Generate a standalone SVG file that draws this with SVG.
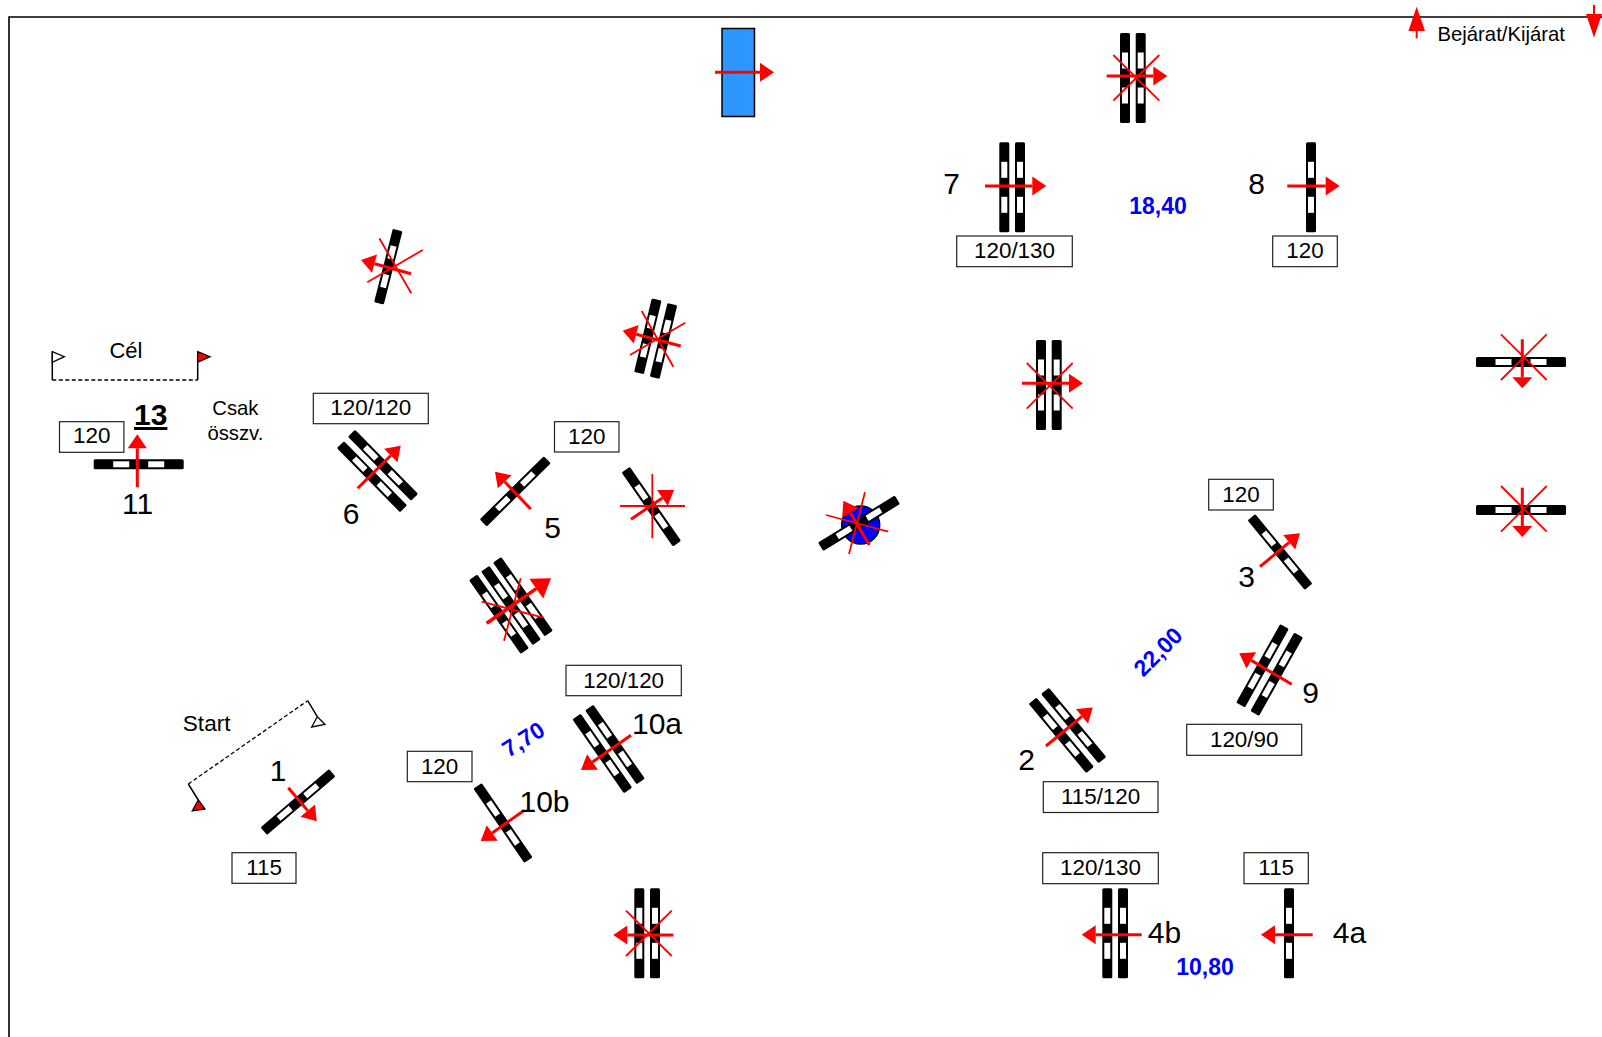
<svg xmlns="http://www.w3.org/2000/svg" width="1602" height="1037" viewBox="0 0 1602 1037">
<style>
text{font-family:"Liberation Sans",Arial,sans-serif;fill:#000}
.m{text-anchor:middle}
.box{fill:#fff;stroke:#222;stroke-width:1.2}
.bt{font-size:22.4px;text-anchor:middle}
.num{font-size:30px}
.sm{font-size:20.3px}
.blue{font-size:23px;font-weight:bold;fill:#00f;text-anchor:middle}
.a{fill:none;stroke:#f00;stroke-width:3;marker-end:url(#h)}
.as{fill:none;stroke:#f00;stroke-width:3;marker-end:url(#hs)}
.al{fill:none;stroke:#f00;stroke-width:3.5;marker-end:url(#hl)}
.x{stroke:#f00;stroke-width:1.8;fill:none}
.dash{stroke:#000;stroke-width:1.3;stroke-dasharray:4 2.5;fill:none}
.pole{stroke:#000;stroke-width:1.5;fill:none}
.fw{fill:#fff;stroke:#000;stroke-width:1.3}
.fr{fill:#f00;stroke:#000;stroke-width:1.3}
</style>
<defs>
<g id="bar"><rect x="-5" y="-45" width="10" height="90" rx="1.5" fill="#000"/><rect x="-3" y="-25.5" width="6" height="16" fill="#fff"/><rect x="-3" y="9.5" width="6" height="16" fill="#fff"/></g>
<marker id="h" markerUnits="userSpaceOnUse" markerWidth="16" markerHeight="22" refX="0" refY="10" orient="auto" overflow="visible"><path d="M0,0.5L14,10L0,19.5Z" fill="#f00"/></marker>
<marker id="hs" markerUnits="userSpaceOnUse" markerWidth="13" markerHeight="22" refX="0" refY="10" orient="auto" overflow="visible"><path d="M0,0L11,10L0,20Z" fill="#f00"/></marker>
<marker id="hl" markerUnits="userSpaceOnUse" markerWidth="20" markerHeight="26" refX="0" refY="12" orient="auto" overflow="visible"><path d="M0,0L18,12L0,24Z" fill="#f00"/></marker>
</defs>
<rect width="1602" height="1037" fill="#fff"/>
<path id="frame" d="M9,1037V17H1602" fill="none" stroke="#000" stroke-width="1.6"/>

<g id="legend">
<line x1="1416.7" y1="38.3" x2="1416.7" y2="28" stroke="#f00" stroke-width="2"/>
<path d="M1416.7,6.7L1425,31H1408.4Z" fill="#f00"/>
<line x1="1594" y1="5" x2="1594" y2="15" stroke="#f00" stroke-width="2"/>
<path d="M1586,14H1602V14L1594,37.5L1586,14Z" fill="#f00"/>
<text class="sm" x="1437.5" y="41">Bejárat/Kijárat</text>
</g>

<g id="water">
<rect x="722" y="28.5" width="32.5" height="88" fill="#2e96ff" stroke="#000" stroke-width="1.5"/>
<line class="a" x1="715" y1="72.3" x2="760" y2="72.3"/>
</g>

<g id="cross-top">
<use href="#bar" transform="translate(1125 78)"/><use href="#bar" transform="translate(1140.7 78)"/>
<path class="x" d="M1113.3,55L1159.3,100.7M1113.3,100.7L1159.3,55"/>
<line class="a" x1="1106.7" y1="76" x2="1153.3" y2="76"/>
</g>

<g id="ob7">
<use href="#bar" transform="translate(1004.3 187.3)"/><use href="#bar" transform="translate(1020 187.3)"/>
<line class="a" x1="985" y1="186" x2="1032.3" y2="186"/>
<text class="num m" x="951.7" y="194">7</text>
<rect class="box" x="956.7" y="236" width="115.6" height="30.7"/><text class="bt" x="1014.5" y="258.3">120/130</text>
</g>

<g id="ob8">
<use href="#bar" transform="translate(1311 187.3)"/>
<line class="a" x1="1287.3" y1="186" x2="1325.7" y2="186"/>
<text class="num m" x="1256.7" y="194">8</text>
<rect class="box" x="1272.7" y="236" width="64.6" height="30.7"/><text class="bt" x="1305" y="258.3">120</text>
</g>

<text class="blue" x="1158" y="214">18,40</text>

<g id="cross-mid">
<use href="#bar" transform="translate(1041 385)"/><use href="#bar" transform="translate(1056.7 385)"/>
<path class="x" d="M1026.7,363L1072.7,408.7M1026.7,408.7L1072.7,363"/>
<line class="a" x1="1022" y1="383.3" x2="1069" y2="383.3"/>
</g>

<g id="cross-right1">
<use href="#bar" transform="translate(1521 362) rotate(90)"/>
<path class="x" d="M1501,334.3L1546.7,380M1501,380L1546.7,334.3"/>
<line class="as" x1="1522.3" y1="339.3" x2="1522.3" y2="377.3"/>
</g>
<g id="cross-right2">
<use href="#bar" transform="translate(1521 510) rotate(90)"/>
<path class="x" d="M1501,486L1546.7,531.7M1501,531.7L1546.7,486"/>
<line class="as" x1="1522.3" y1="487.7" x2="1522.3" y2="526"/>
</g>

<g id="ob3">
<use href="#bar" transform="translate(1280 552) rotate(-39.4)"/>
<line class="a" x1="1260" y1="566.7" x2="1289.2" y2="542.3"/>
<text class="num m" x="1246.7" y="586.7">3</text>
<rect class="box" x="1208.7" y="479.3" width="64.6" height="30.7"/><text class="bt" x="1241" y="502.3">120</text>
</g>

<g id="ob9">
<use href="#bar" transform="translate(1262.5 665.8) rotate(29.2)"/><use href="#bar" transform="translate(1276.7 674.2) rotate(29.2)"/>
<line class="a" x1="1291.7" y1="684.3" x2="1251.3" y2="660.4"/>
<text class="num m" x="1310.7" y="702.7">9</text>
<rect class="box" x="1186.7" y="724.3" width="115" height="31"/><text class="bt" x="1244.2" y="746.7">120/90</text>
</g>

<text class="blue" transform="translate(1158 651.7) rotate(-45)" x="0" y="8">22,00</text>

<g id="ob2">
<use href="#bar" transform="translate(1061.3 735.3) rotate(-39.7)"/><use href="#bar" transform="translate(1073.7 725.5) rotate(-39.7)"/>
<line class="a" x1="1046" y1="746" x2="1082" y2="716.3"/>
<text class="num m" x="1026.7" y="770">2</text>
<rect class="box" x="1043.3" y="781.7" width="114.7" height="30.8"/><text class="bt" x="1100.6" y="804">115/120</text>
</g>

<g id="ob4b">
<use href="#bar" transform="translate(1107.3 933.3)"/><use href="#bar" transform="translate(1123 933.3)"/>
<line class="a" x1="1141.7" y1="934.7" x2="1095.7" y2="934.7"/>
<text class="num" x="1147.8" y="942.7">4b</text>
<rect class="box" x="1042.7" y="852.7" width="115.6" height="31"/><text class="bt" x="1100.5" y="875.3">120/130</text>
</g>

<g id="ob4a">
<use href="#bar" transform="translate(1289 933.3)"/>
<line class="a" x1="1312.7" y1="934.7" x2="1275" y2="934.7"/>
<text class="num" x="1332.8" y="942.7">4a</text>
<rect class="box" x="1244" y="852.7" width="64.3" height="31"/><text class="bt" x="1276.2" y="875.3">115</text>
</g>

<text class="blue" x="1205" y="975">10,80</text>

<g id="ob10a">
<use href="#bar" transform="translate(602.3 753.5) rotate(-34.8)"/><use href="#bar" transform="translate(615 744.5) rotate(-34.8)"/>
<line class="a" x1="631" y1="735.3" x2="592.5" y2="762"/>
<text class="num" x="632" y="733.8">10a</text>
<rect class="box" x="566" y="665.3" width="115.3" height="30.4"/><text class="bt" x="623.6" y="687.7">120/120</text>
</g>

<g id="cross-bottom">
<use href="#bar" transform="translate(639.3 933.3)"/><use href="#bar" transform="translate(655 933.3)"/>
<path class="x" d="M626,910.7L671.7,956M626,956L671.7,910.7"/>
<line class="a" x1="673.3" y1="935" x2="627.3" y2="935"/>
</g>

<g id="ob5">
<use href="#bar" transform="translate(515.3 491.3) rotate(45.4)"/>
<line class="a" x1="530.7" y1="509" x2="504.7" y2="481.8"/>
<text class="num m" x="552.7" y="537.7">5</text>
<rect class="box" x="554.5" y="421.7" width="64.5" height="30.3"/><text class="bt" x="586.8" y="444">120</text>
</g>

<g id="cross-plus">
<use href="#bar" transform="translate(651.3 506.7) rotate(-34.7)"/>
<path class="x" d="M652.3,474V538.3M620,506H685"/>
<line class="a" x1="631" y1="519.3" x2="662.4" y2="497.9"/>
</g>

<g id="cross-triple">
<use href="#bar" transform="translate(499 614.2) rotate(-35)"/><use href="#bar" transform="translate(511 605.5) rotate(-35)"/><use href="#bar" transform="translate(523 596.7) rotate(-35)"/>
<path class="x" d="M481.7,601.7L543.3,617.7M520.7,578.3L504,640.7"/>
<line class="al" x1="486.7" y1="623.3" x2="536.3" y2="588.6"/>
</g>

<g id="cross-circle">
<circle cx="860.7" cy="525" r="19" fill="#00f" stroke="#000" stroke-width="1.5"/>
<use href="#bar" transform="translate(859 523.3) rotate(58.5)"/>
<path class="x" d="M865,492.3L849,554M826,515L888.3,531.7"/>
<line class="a" x1="869.3" y1="545" x2="850.4" y2="512.8"/>
</g>

<g id="ob1">
<use href="#bar" transform="translate(298 802) rotate(49.6)"/>
<line class="a" x1="288.3" y1="787.7" x2="307.7" y2="810.6"/>
<text class="num m" x="278" y="781">1</text>
<rect class="box" x="232" y="852.7" width="64" height="30.6"/><text class="bt" x="264" y="875">115</text>
</g>

<g id="ob10b">
<use href="#bar" transform="translate(503 823) rotate(-34.4)"/>
<line class="a" x1="523.3" y1="811" x2="492.2" y2="832.9"/>
<text class="num" x="519.5" y="811.7">10b</text>
<rect class="box" x="407.3" y="751.3" width="64.7" height="30.4"/><text class="bt" x="439.6" y="774">120</text>
</g>

<text class="blue" transform="translate(523.3 739.3) rotate(-32)" x="0" y="8">7,70</text>

<g id="start">
<path class="dash" d="M188.3,784L307.7,700.7"/>
<path class="pole" d="M307.7,700.7L317.3,716.7M188.3,784L198.3,800"/>
<path class="fw" d="M317.3,716.7L325,724.3L311.7,727Z"/>
<path class="fr" d="M198.3,800L205,809L192.3,811Z"/>
<text x="182.8" y="730.7" font-size="22.6">Start</text>
</g>

<g id="finish">
<path class="dash" d="M52.3,380H197.7"/>
<path class="pole" d="M52.3,380V351.7M197.7,380V351.7"/>
<path class="fw" d="M52.3,351.7L64.3,356.7L52.3,362.3Z"/>
<path class="fr" d="M197.7,351.7L210,356.7L197.7,362.3Z"/>
<text class="m" x="126" y="357.7" font-size="22">Cél</text>
</g>

<g id="ob11">
<use href="#bar" transform="translate(138.7 464.3) rotate(90)"/>
<line class="a" x1="137.3" y1="487.3" x2="137.3" y2="448.3"/>
<text class="num m" x="137.5" y="514.3">11</text>
<text class="m" x="150.7" y="425" font-size="30" font-weight="bold" text-decoration="underline">13</text>
<rect class="box" x="59.5" y="421.7" width="64.4" height="30.6"/><text class="bt" x="91.8" y="443.3">120</text>
</g>

<text class="sm m" x="235.4" y="415">Csak</text>
<text class="sm m" x="235.4" y="440">összv.</text>

<g id="ob6">
<use href="#bar" transform="translate(372 476.7) rotate(-44.5)"/><use href="#bar" transform="translate(383 465.3) rotate(-44.5)"/>
<line class="a" x1="357.7" y1="488.3" x2="390.8" y2="455.5"/>
<text class="num m" x="351" y="524.3">6</text>
<rect class="box" x="313.3" y="393.3" width="115" height="30.4"/><text class="bt" x="370.8" y="415">120/120</text>
</g>

<g id="cross-a">
<use href="#bar" transform="translate(388.3 266.7) rotate(14.3) scale(1 .84)"/>
<path class="x" d="M379.3,238.3L411.3,293.3M367.3,282.3L422.7,250"/>
<line class="a" x1="411" y1="273.7" x2="374.5" y2="263.7"/>
</g>

<g id="cross-b">
<use href="#bar" transform="translate(647.8 336.3) rotate(13.5) scale(1 .84)"/><use href="#bar" transform="translate(663.5 341) rotate(13.5) scale(1 .84)"/>
<path class="x" d="M641.7,311L673.3,366.7M630,355L685.3,322.7"/>
<line class="a" x1="680.7" y1="346" x2="636.2" y2="334.3"/>
</g>
</svg>
